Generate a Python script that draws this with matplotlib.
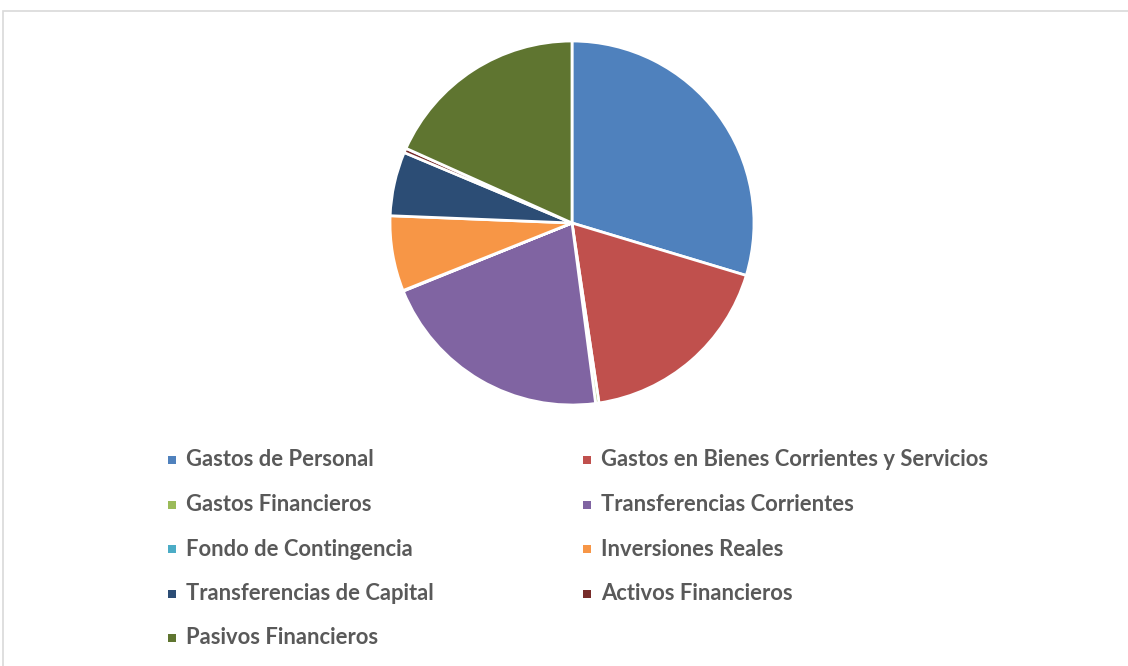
import matplotlib.pyplot as plt
from matplotlib.patches import Rectangle

# --- DATA ---
CATEGORIES = [
    'Gastos de Personal',
    'Gastos en Bienes Corrientes y Servicios',
    'Gastos Financieros',
    'Transferencias Corrientes',
    'Fondo de Contingencia',
    'Inversiones Reales',
    'Transferencias de Capital',
    'Activos Financieros',
    'Pasivos Financieros',
]
SHARES = [29.7, 18.0, 0.3, 21.0, 0.05, 6.7, 5.7, 0.4, 18.3]
COLORS = ['#4F81BD', '#C0504D', '#9BBB59', '#8064A2', '#4BACC6',
          '#F79646', '#2C4D75', '#772C2A', '#5F7530']

W, H = 1128, 666
fig = plt.figure(figsize=(W / 100, H / 100), dpi=100)

# outer chart border (like the office chart area)
fig.patches.append(Rectangle((3 / W, -0.05), 1.1, 1 - 11 / H + 0.05,
                             transform=fig.transFigure, fill=False,
                             edgecolor='#D9D9D9', linewidth=1.2))

# pie area: centre (572, 223), radius 182 px
cx, cy, r = 572, 223, 182
ax = fig.add_axes([(cx - r) / W, (H - cy - r) / H, 2 * r / W, 2 * r / H])
ax.pie(SHARES, colors=COLORS, startangle=90, counterclock=False,
       radius=1.0, wedgeprops=dict(edgecolor='white', linewidth=2))
ax.set_xlim(-1, 1)
ax.set_ylim(-1, 1)
ax.set_aspect('equal')
ax.axis('off')

# legend, row-major in two columns
col_x = [172, 587]
row_y0, row_dy = 460, 44.5
for i, (lab, col) in enumerate(zip(CATEGORIES, COLORS)):
    row, c = divmod(i, 2)
    x = col_x[c]
    y = row_y0 + row * row_dy
    fig.patches.append(Rectangle(((x - 4) / W, (H - y - 4) / H), 8 / W, 8 / H,
                                 transform=fig.transFigure, facecolor=col,
                                 edgecolor='none'))
    fig.text((x + 14) / W, (H - y) / H, lab, fontsize=15.8, fontweight='bold',
             family='Lato', color='#595959', va='center', ha='left')

fig.savefig('out.png', dpi=100)
